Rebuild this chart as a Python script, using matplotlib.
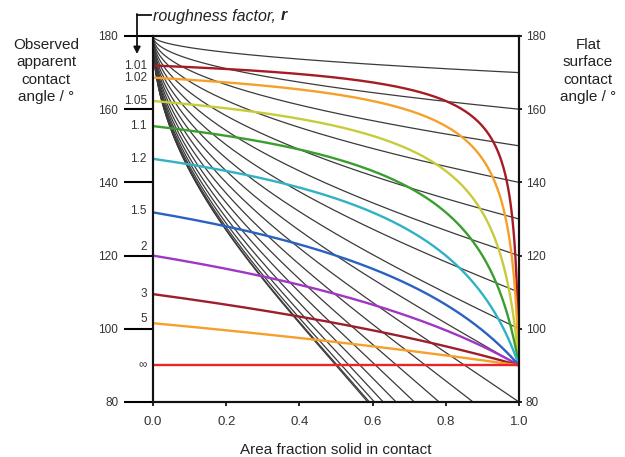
import numpy as np
import matplotlib
matplotlib.use('Agg')
import matplotlib.pyplot as plt

plt.rcParams['font.family'] = ['Liberation Sans', 'DejaVu Sans']

# flat-surface contact angles of the black curves (degrees)
flat_angles = [0, 10, 20, 30, 40, 50, 60, 70, 80, 90,
               100, 110, 120, 130, 140, 150, 160, 170]
# roughness factors of the coloured curves
rough_factors = [1.01, 1.02, 1.05, 1.1, 1.2, 1.5, 2, 3, 5, np.inf]
rough_labels = ['1.01', '1.02', '1.05', '1.1', '1.2', '1.5', '2', '3', '5', '∞']
rough_colors = ['#a51c24', '#f5a02a', '#c8cb3a', '#3a9e2f', '#2fb2c4',
                '#2a62c0', '#a037c4', '#9b1f2c', '#f5a02a', '#e8262a']
label_shift = [0, 0, 0, 0, 0, 1, 6, 0, 3, 0]   # points, to clear the ticks

y_ticks = [80, 100, 120, 140, 160, 180]
x_ticks = [0.0, 0.2, 0.4, 0.6, 0.8, 1.0]

fig = plt.figure(figsize=(6.25, 4.57), dpi=100)
ax = fig.add_axes([153 / 625, 1 - 402 / 457, 366 / 625, 366 / 457])

f = np.linspace(0, 1, 800)

# ---- Cassie-Baxter curves, one per flat angle ----
for th in flat_angles:
    c = f * (1 + np.cos(np.radians(th))) - 1
    ax.plot(f, np.degrees(np.arccos(np.clip(c, -1, 1))),
            color='#3a3a3a', lw=0.9, zorder=2)

# ---- critical angle for Cassie/Wenzel transition, one per roughness ----
for r, lab, col, dy in zip(rough_factors, rough_labels, rough_colors, label_shift):
    if np.isinf(r):
        y = np.full_like(f, 90.0)
    else:
        fr = f[:-1]
        y = np.degrees(np.arccos((fr - 1) / (r - fr)))
        y = np.append(y, 90.0)
    ax.plot(f, y, color=col, lw=1.7, zorder=3)
    ax.annotate(lab, xy=(0, y[0]), xytext=(-4.5, dy), textcoords='offset points',
                ha='right', va='center', fontsize=8.5, color='#333333')

ax.set_xlim(0, 1)
ax.set_ylim(80, 180)
ax.set_xticks(x_ticks)
ax.set_xticklabels([f'{v:.1f}' for v in x_ticks], fontsize=9.5, color='#333333')
ax.set_yticks(y_ticks)
ax.set_yticklabels([str(v) for v in y_ticks], fontsize=8.5, color='#333333')
ax.tick_params(axis='y', direction='out', length=21, width=1.5, pad=4)
ax.tick_params(axis='x', direction='out', length=3, width=1.2, pad=7)
for s in ax.spines.values():
    s.set_linewidth(1.5)
    s.set_color('#111111')

ax2 = ax.twinx()
ax2.set_ylim(80, 180)
ax2.set_yticks(y_ticks)
ax2.set_yticklabels([str(v) for v in y_ticks], fontsize=8.5, color='#333333')
ax2.tick_params(axis='y', direction='out', length=2, width=1.2, pad=3)
for s in ax2.spines.values():
    s.set_linewidth(1.5)
    s.set_color('#111111')

ax.set_xlabel('Area fraction solid in contact', fontsize=11, labelpad=11, color='#222222')

fig.text(46 / 625, 1 - 71 / 457, 'Observed\napparent\ncontact\nangle / °',
         ha='center', va='center', fontsize=11, linespacing=1.3, color='#222222')
fig.text(588 / 625, 1 - 71 / 457, 'Flat\nsurface\ncontact\nangle / °',
         ha='center', va='center', fontsize=11, linespacing=1.3, color='#222222')

# roughness factor pointer
t1 = fig.text(153 / 625, 1 - 16 / 457, 'roughness factor, ', style='italic',
              fontsize=11.5, ha='left', va='center', color='#222222')
fig.canvas.draw()
bb = t1.get_window_extent()
fig.text(bb.x1 / 625, 1 - 16 / 457, 'r', style='italic', weight='bold',
         fontsize=11.5, ha='left', va='center', color='#222222')
fig.add_artist(plt.Line2D([137 / 625, 151 / 625], [1 - 15 / 457, 1 - 15 / 457],
                          transform=fig.transFigure, color='#111111', lw=1.3))
ax.annotate('', xy=(137, 457 - 54), xytext=(137, 457 - 14),
            xycoords='figure pixels', textcoords='figure pixels',
            arrowprops=dict(arrowstyle='-|>', color='#111111', lw=1.3,
                            mutation_scale=10, shrinkA=0, shrinkB=0))

fig.savefig('out.png', dpi=100)
